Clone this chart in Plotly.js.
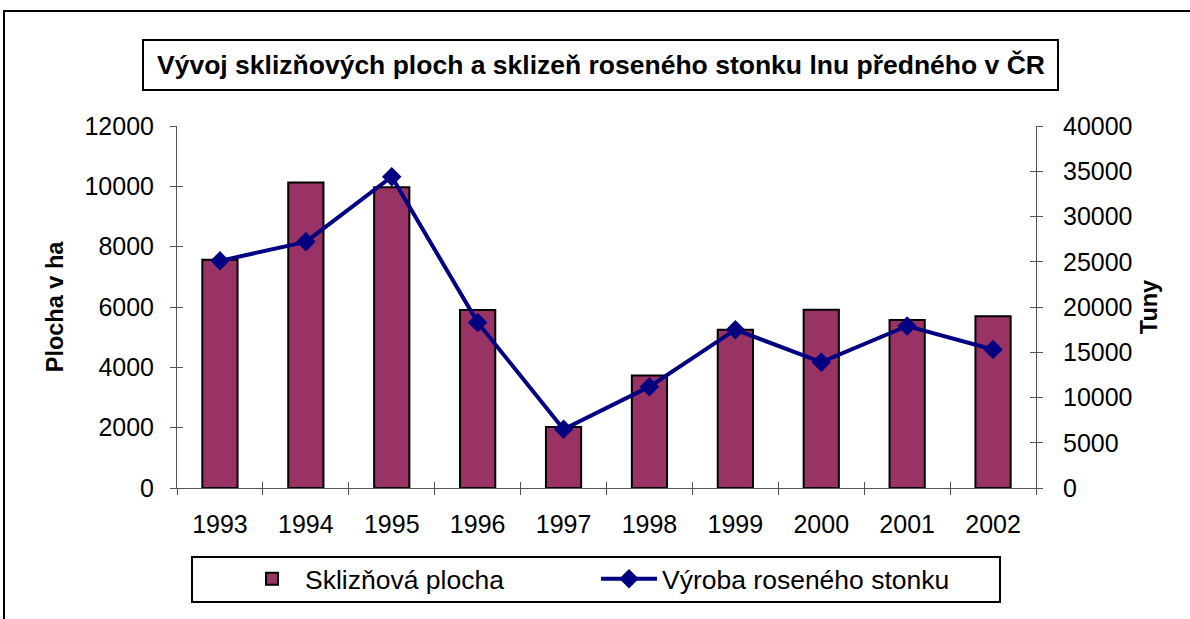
<!DOCTYPE html>
<html>
<head>
<meta charset="utf-8">
<script src="https://cdn.plot.ly/plotly-3.0.1.min.js"></script>
<style>html,body{margin:0;padding:0;background:#fff;}#chart{width:1190px;height:619px;}</style>
</head>
<body>
<div id="chart"></div>
<script>
const years = ["1993","1994","1995","1996","1997","1998","1999","2000","2001","2002"];
const plocha = [7570, 10130, 9970, 5900, 2020, 3730, 5250, 5910, 5570, 5690];
const vyroba = [25100, 27200, 34400, 18300, 6500, 11200, 17500, 13900, 17900, 15300];
const leftTicks = [0, 2000, 4000, 6000, 8000, 10000, 12000];
const rightTicks = [0, 5000, 10000, 15000, 20000, 25000, 30000, 35000, 40000];

const W = 1190, H = 619;
const L = 177, R = 1036, T = 126, B = 488;
const px = x => (x - L) / (R - L);
const py = y => (B - y) / (B - T);

const FAM = "Arial, 'Liberation Sans', sans-serif";
const tickFont = {family: FAM, size: 25, color: "#000"};
const titleFont = {family: FAM, size: 23.5, color: "#000"};
const AX = "#555";

const traces = [
  {
    type: "bar", x: years, y: plocha, name: "Sklizňová plocha",
    marker: {color: "#993366", line: {color: "#000", width: 2}},
    width: 0.41, yaxis: "y"
  },
  {
    type: "scatter", mode: "lines+markers", x: years, y: vyroba, name: "Výroba roseného stonku",
    line: {color: "#000080", width: 4},
    marker: {symbol: "diamond", size: 15, color: "#000080"},
    yaxis: "y2"
  },
  // helper traces so the inner tick axes are drawn (no visible marks)
  {type: "scatter", mode: "markers", x: years, y: years.map(() => null), xaxis: "x2", yaxis: "y3",
   showlegend: false, hoverinfo: "skip", marker: {opacity: 0}},
  {type: "scatter", mode: "markers", x: years, y: years.map(() => null), xaxis: "x2", yaxis: "y4",
   showlegend: false, hoverinfo: "skip", marker: {opacity: 0}}
];

const layout = {
  width: W, height: H,
  margin: {l: L, r: W - R, t: T, b: H - B, pad: 0},
  paper_bgcolor: "#fff", plot_bgcolor: "#fff",
  font: tickFont,
  showlegend: true,
  title: {
    text: "<b>Vývoj sklizňových ploch a sklizeň roseného stonku lnu předného v ČR</b>",
    font: {family: FAM, size: 26.5, color: "#000"},
    xref: "container", yref: "container", x: 601 / W, xanchor: "center",
    y: 1 - 65 / H, yanchor: "middle"
  },
  xaxis: {
    type: "category", range: [-0.5, 9.5],
    showline: true, linecolor: AX, linewidth: 1,
    ticks: "outside", ticklen: 6, tickcolor: AX, tickson: "boundaries",
    showgrid: false, zeroline: false,
    tickfont: tickFont, ticklabelstandoff: 14
  },
  xaxis2: {
    type: "category", range: [-0.5, 9.5], overlaying: "x", anchor: "y",
    showline: false, ticks: "inside", ticklen: 6, tickcolor: AX, tickson: "boundaries",
    showticklabels: false, showgrid: false, zeroline: false
  },
  yaxis: {
    range: [0, 12000], tickvals: leftTicks, ticktext: leftTicks.map(String),
    showline: true, linecolor: AX, linewidth: 1,
    ticks: "outside", ticklen: 6, tickcolor: AX,
    showgrid: false, zeroline: false,
    tickfont: tickFont, ticklabelstandoff: 11,
    title: {text: "<b>Plocha v ha</b>", font: titleFont, standoff: 14}
  },
  yaxis2: {
    overlaying: "y", side: "right",
    range: [0, 40000], tickvals: rightTicks, ticktext: rightTicks.map(String),
    showline: true, linecolor: AX, linewidth: 1,
    ticks: "outside", ticklen: 6, tickcolor: AX,
    showgrid: false, zeroline: false,
    tickfont: tickFont, ticklabelstandoff: 15,
    title: {text: "<b>Tuny</b>", font: titleFont, standoff: 9}
  },
  yaxis3: {
    overlaying: "y", side: "left", anchor: "x",
    range: [0, 12000], tickvals: leftTicks,
    showline: false, ticks: "inside", ticklen: 6, tickcolor: AX,
    showticklabels: false, showgrid: false, zeroline: false
  },
  yaxis4: {
    overlaying: "y", side: "right", anchor: "x",
    range: [0, 40000], tickvals: rightTicks,
    showline: false, ticks: "inside", ticklen: 6, tickcolor: AX,
    showticklabels: false, showgrid: false, zeroline: false
  },
  legend: {
    orientation: "h",
    xref: "container", yref: "container",
    x: 239 / W, xanchor: "left",
    y: 1 - 579 / H, yanchor: "middle",
    borderwidth: 0, bgcolor: "rgba(0,0,0,0)",
    font: {family: FAM, size: 26.5, color: "#000"},
    entrywidth: 286, entrywidthmode: "pixels",
    itemwidth: 56
  },
  shapes: [
    {type: "rect", xref: "paper", yref: "paper", x0: px(4), x1: px(1196), y0: py(11), y1: py(625),
     line: {color: "#000", width: 2}, fillcolor: "rgba(0,0,0,0)", layer: "below"},
    {type: "rect", xref: "paper", yref: "paper", x0: px(143), x1: px(1058), y0: py(40), y1: py(90),
     line: {color: "#000", width: 2}, fillcolor: "rgba(0,0,0,0)"},
    {type: "rect", xref: "paper", yref: "paper", x0: px(192), x1: px(1000), y0: py(557), y1: py(602),
     line: {color: "#000", width: 2}, fillcolor: "rgba(0,0,0,0)"}
  ]
};

Plotly.newPlot("chart", traces, layout, {displayModeBar: false, staticPlot: true});
</script>
</body>
</html>
